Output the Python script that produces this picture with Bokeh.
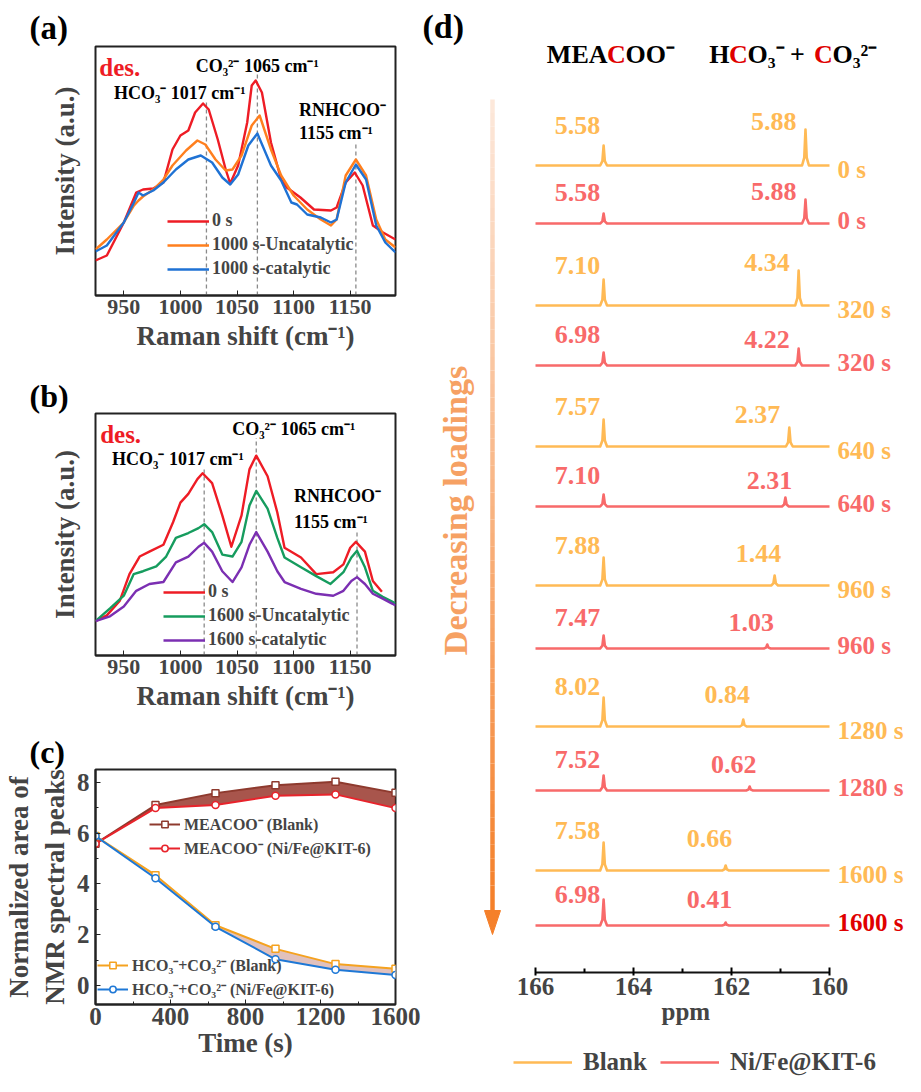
import numpy as np
from bokeh.plotting import figure
from bokeh.models import Range1d, FixedTicker, SingleIntervalTicker, Legend, LegendItem, Title
from bokeh.layouts import row, column
from bokeh.embed import file_html
from bokeh.resources import INLINE
from bokeh.core.properties import value

SERIF = "Liberation Serif"

# ---------------- panel (a): Raman spectra, 1000 s ----------------
a_red_x = [925, 935, 950, 961, 967, 976, 985, 993, 1000, 1007, 1013, 1020, 1025, 1033, 1040, 1044, 1051, 1059, 1063, 1066.5,
           1072, 1080, 1089, 1094, 1106, 1118, 1133, 1138, 1146, 1154, 1161, 1170, 1179, 1190]
a_red_y = [35, 40, 73, 103, 106, 107, 113, 146, 160, 165, 183, 192, 186, 156, 126, 112, 130, 173, 210, 215,
           203, 153, 116, 108, 98, 86, 85, 88, 113, 123, 110, 70, 63, 56]
a_orange_x = [925, 935, 950, 959, 963, 967, 976, 985, 993, 1005, 1015, 1022, 1031, 1040, 1046, 1054, 1063, 1070, 1080, 1089,
              1100, 1112, 1124, 1133, 1138, 1146, 1155, 1164, 1173, 1181, 1190]
a_orange_y = [46, 56, 73, 90, 95, 99, 106, 116, 130, 145, 155, 151, 136, 125, 126, 140, 170, 180, 146, 120,
              100, 86, 76, 70, 76, 120, 136, 120, 76, 56, 48]
a_blue_x = [925, 935, 950, 959, 963, 967, 976, 985, 996, 1007, 1018, 1028, 1037, 1044, 1051, 1060, 1068, 1080, 1089, 1098,
            1103, 1112, 1124, 1133, 1138, 1146, 1155, 1164, 1173, 1181, 1190]
a_blue_y = [44, 50, 73, 93, 103, 100, 105, 113, 126, 136, 140, 133, 118, 111, 121, 150, 162, 130, 115, 93,
            91, 81, 78, 73, 76, 113, 131, 116, 70, 53, 43]
a_labels = ["0 s", "1000 s-Uncatalytic", "1000 s-catalytic"]
a_peaks = [1023, 1068, 1155]

# ---------------- panel (b): Raman spectra, 1600 s ----------------
b_red_x = [925, 935, 946.5, 955, 964, 972.6, 985, 993.5, 1000, 1007, 1015, 1019.6, 1028, 1037, 1045, 1054, 1061, 1067, 1077, 1085.6,
           1092, 1106.5, 1120, 1135, 1144, 1150, 1155, 1163, 1170, 1178]
b_red_y = [35, 41, 56, 83, 101, 106, 113, 136, 156, 165, 180, 186, 176, 143, 111, 143, 190, 204, 183, 146,
           110, 100, 83, 85, 93, 110, 116, 106, 76, 65]
b_green_x = [925, 937.8, 950, 958.7, 967, 978.7, 987.4, 996, 1007, 1016, 1021, 1028, 1037, 1046, 1054, 1061, 1067, 1077, 1085.6, 1092,
             1106.5, 1120, 1132.6, 1144, 1151, 1156, 1163, 1170, 1178.7, 1187, 1190]
b_green_y = [35, 48, 61, 83, 86, 91, 101, 120, 125, 130, 134, 126, 103, 101, 116, 153, 168, 150, 120, 100,
             90, 81, 73, 85, 100, 107, 90, 66, 60, 55, 53]
b_purple_x = [925, 937.8, 950, 961, 972.6, 985, 996, 1007, 1016, 1021, 1028, 1037, 1046, 1054, 1061, 1067, 1077, 1085.6, 1092, 1106.5,
              1120, 1135, 1144, 1151, 1156, 1163, 1170, 1178.7, 1187, 1190]
b_purple_y = [35, 40, 50, 66, 73, 75, 95, 101, 111, 115, 106, 86, 75, 90, 113, 126, 106, 86, 75, 68,
              63, 61, 66, 76, 80, 73, 63, 58, 53, 51]
b_labels = ["0 s", "1600 s-Uncatalytic", "1600 s-catalytic"]
b_peaks = [1021, 1067, 1156]

# ---------------- panel (c) / (d): NMR peak areas ----------------
times = [0, 320, 640, 960, 1280, 1600]
time_labels = ["0 s", "320 s", "640 s", "960 s", "1280 s", "1600 s"]
mea_blank = [5.58, 7.10, 7.57, 7.88, 8.02, 7.58]
mea_ni = [5.58, 6.98, 7.10, 7.47, 7.52, 6.98]
hco_blank = [5.88, 4.34, 2.37, 1.44, 0.84, 0.66]
hco_ni = [5.88, 4.22, 2.31, 1.03, 0.62, 0.41]

# (d) spectra: peak positions (ppm), peak heights and stacking offsets (intensity units)
mea_ppm = 164.61
hco_ppm_blank = [160.49, 160.63, 160.82, 161.12, 161.76, 162.12]
hco_ppm_ni = [160.49, 160.63, 160.90, 161.27, 161.63, 162.12]
mea_h_blank = [20, 26, 27, 28, 29, 28]
hco_h_blank = [36, 35, 19, 10, 7, 5]
mea_h_ni = [10, 13, 12, 13, 15, 26]
hco_h_ni = [24, 17, 9, 4, 4, 3]
offset_blank = [807, 667, 526, 387, 246, 102]
offset_ni = [749, 607, 466, 324, 182, 47]

# ---------------- colours ----------------
C_RED = "#EE1C25"
C_ORANGE = "#FF7F1E"
C_BLUE = "#1F72D4"
C_GREEN = "#169C5E"
C_PURPLE = "#7B2FB2"
C_D_BLANK = "#FFBA55"
C_D_NI = "#F86A6A"


def bold_text(p, x, y, text, size, color="black", align="left", angle=0.0):
    p.text(x=x, y=y, text=text, text_font=value(SERIF), text_font_size=size,
           text_font_style="bold", text_color=color, text_align=align,
           text_baseline="middle", angle=angle)


def panel_title(p, text, size, standoff):
    p.add_layout(Title(text=text, align="left", offset=-66, text_font=SERIF, text_font_size=size,
                       text_font_style="bold", text_color="black", standoff=standoff), "above")


def base_axes(p):
    p.grid.visible = False
    p.outline_line_color = "#222222"
    p.outline_line_width = 2
    for ax in p.axis:
        ax.axis_line_color = "#222222"
        ax.axis_line_width = 2
        ax.major_label_text_font = SERIF
        ax.major_label_text_font_style = "bold"
        ax.axis_label_text_font = SERIF
        ax.axis_label_text_font_style = "bold"
        ax.axis_label_text_font_size = "27px"
        ax.major_tick_in = 5
        ax.major_tick_out = 0
        ax.minor_tick_in = 3
        ax.minor_tick_out = 0
        ax.major_tick_line_color = "#222222"
        ax.minor_tick_line_color = "#222222"


def raman_panel(height, top, bottom, ymax, curves, labels, peaks, notes, legend_loc):
    p = figure(width=422, height=height, x_range=Range1d(925, 1190), y_range=Range1d(0, ymax),
               output_backend="svg", toolbar_location=None,
               min_border_left=90, min_border_right=27, min_border_top=top, min_border_bottom=bottom)
    base_axes(p)
    p.xaxis.ticker = FixedTicker(ticks=[950, 1000, 1050, 1100, 1150])
    p.xaxis.major_label_text_font_size = "22px"
    p.xaxis.major_label_standoff = 4
    p.xaxis.axis_label = "Raman shift (cm\u207b\u00b9)"
    p.xaxis.axis_label_standoff = 4
    p.yaxis.ticker = FixedTicker(ticks=[])
    p.yaxis.axis_line_color = None
    p.yaxis.axis_label = "Intensity (a.u.)"
    p.yaxis.axis_label_standoff = 16
    for pk, top_val in zip(peaks, notes["dash_tops"]):
        p.segment(x0=[pk], y0=[0], x1=[pk], y1=[top_val], line_color="#8a8a8a",
                  line_width=1.3, line_dash="4 3")
    rends = []
    for (xs, ys, col) in curves:
        rends.append(p.line(xs, ys, line_color=col, line_width=2.4, line_join="round"))
    legend = Legend(items=[LegendItem(label=l, renderers=[r]) for l, r in zip(labels, rends)],
                    location=legend_loc, glyph_width=42, glyph_height=18, label_standoff=3,
                    spacing=3, padding=0, margin=0, label_height=20,
                    label_text_font=SERIF, label_text_font_size="18px", label_text_font_style="bold",
                    background_fill_alpha=0, border_line_alpha=0)
    p.add_layout(legend, "center")
    for (x, y, t, size, col) in notes["texts"]:
        bold_text(p, [x], [y], [t], size, col)
    return p


notes_a = {
    "dash_tops": [193, 222, 152],
    "texts": [(928.3, 228, "des.", "25px", C_RED),
              (1013.5, 230, "CO\u2083\u00b2\u207b 1065 cm\u207b\u00b9", "18px", "black"),
              (941.3, 203, "HCO\u2083\u207b  1017 cm\u207b\u00b9", "18px", "black"),
              (1104.8, 186, "RNHCOO\u207b", "18px", "black"),
              (1104.8, 163, "1155 cm\u207b\u00b9", "18px", "black")],
}
notes_b = {
    "dash_tops": [192, 222, 126],
    "texts": [(929.1, 226, "des.", "25px", C_RED),
              (1045.7, 231, "CO\u2083\u00b2\u207b 1065 cm\u207b\u00b9", "18px", "black"),
              (939.6, 201, "HCO\u2083\u207b  1017 cm\u207b\u00b9", "18px", "black"),
              (1100.4, 163, "RNHCOO\u207b", "18px", "black"),
              (1100.4, 136, "1155 cm\u207b\u00b9", "18px", "black")],
}

fa = raman_panel(371, 46, 76, 249,
                 [(a_red_x, a_red_y, C_RED), (a_orange_x, a_orange_y, C_ORANGE), (a_blue_x, a_blue_y, C_BLUE)],
                 a_labels, a_peaks, notes_a, (72, 16))
panel_title(fa, "(a)", "33px", 2)

fb = raman_panel(360, 42, 76, 247,
                 [(b_red_x, b_red_y, C_RED), (b_green_x, b_green_y, C_GREEN), (b_purple_x, b_purple_y, C_PURPLE)],
                 b_labels, b_peaks, notes_b, (68, 5))
panel_title(fb, "(b)", "32px", 0)

# ---------------- panel (c) ----------------
fc = figure(width=422, height=345, x_range=Range1d(0, 1600), y_range=Range1d(-0.75, 8.5),
            output_backend="svg", toolbar_location=None,
            min_border_left=90, min_border_right=27, min_border_top=36, min_border_bottom=72)
base_axes(fc)
panel_title(fc, "(c)", "32px", 0)
fc.xaxis.ticker = SingleIntervalTicker(interval=400, num_minor_ticks=2)
fc.yaxis.ticker = SingleIntervalTicker(interval=2, num_minor_ticks=2)
fc.xaxis.major_label_text_font_size = "25px"
fc.yaxis.major_label_text_font_size = "25px"
fc.xaxis.major_label_standoff = 3
fc.yaxis.major_label_standoff = 6
fc.xaxis.axis_label = "Time (s)"
fc.xaxis.axis_label_standoff = 0
fc.yaxis.axis_label = "Normalized area of\nNMR spectral peaks"
fc.yaxis.axis_label_standoff = 4

fc.varea(x=times, y1=mea_ni, y2=mea_blank, fill_color="#9C3D33", fill_alpha=0.88)
fc.varea(x=times, y1=hco_ni, y2=hco_blank, fill_color="#C98E86", fill_alpha=0.55)

series_c = [(mea_blank, "#8E3A2E", "square", "MEACOO\u207b (Blank)"),
            (mea_ni, "#E8232B", "circle", "MEACOO\u207b (Ni/Fe@KIT-6)"),
            (hco_blank, "#F5A21F", "square", "HCO\u2083\u207b+CO\u2083\u00b2\u207b (Blank)"),
            (hco_ni, "#1E78D6", "circle", "HCO\u2083\u207b+CO\u2083\u00b2\u207b (Ni/Fe@KIT-6)")]
items_c = []
for vals, col, mk, lab in series_c:
    lr = fc.line(times, vals, line_color=col, line_width=2)
    sr = fc.scatter(times, vals, marker=mk, size=7, line_color=col, fill_color="white", line_width=1.5)
    items_c.append(LegendItem(label=lab, renderers=[lr, sr]))

for its, loc, lh in [(items_c[:2], (54, 145), 19), (items_c[2:], (2, 4), 21)]:
    lg = Legend(items=its, location=loc, glyph_width=31, glyph_height=16, label_standoff=4,
                spacing=2, padding=0, margin=0, label_height=lh,
                label_text_font=SERIF, label_text_font_size="16px", label_text_font_style="bold",
                background_fill_alpha=0, border_line_alpha=0)
    fc.add_layout(lg, "center")

# ---------------- panel (d) ----------------
def ppm_px(px):
    return 166 - (px - 543) / 49.0


def yd(py):
    return 980 - py


D_XR = (ppm_px(430), ppm_px(913))
fd = figure(width=483, height=1048, x_range=Range1d(*D_XR), y_range=Range1d(0, 972),
            output_backend="svg", toolbar_location=None, y_axis_location=None,
            min_border_left=0, min_border_right=0, min_border_top=0, min_border_bottom=76)
fd.grid.visible = False
fd.outline_line_color = None
ax = fd.xaxis[0]
ax.bounds = (160, 166)
ax.ticker = FixedTicker(ticks=[160, 162, 164, 166], minor_ticks=[161, 163, 165])
ax.axis_line_width = 2
ax.axis_line_color = "#111111"
ax.major_tick_in = 5
ax.major_tick_out = 3
ax.minor_tick_in = 4
ax.minor_tick_out = 0
ax.major_tick_line_width = 2
ax.minor_tick_line_width = 2
ax.major_label_text_font = SERIF
ax.major_label_text_font_style = "bold"
ax.major_label_text_font_size = "25px"
ax.major_label_standoff = 2
ax.axis_label = "\u00a0\u00a0\u00a0\u00a0\u00a0\u00a0\u00a0ppm"
ax.axis_label_text_font = SERIF
ax.axis_label_text_font_style = "bold"
ax.axis_label_text_font_size = "25px"
ax.axis_label_standoff = 0


def spectrum(offset, mea_h, hco_pos, hco_h):
    xs, ys = [166.0], [offset]
    for pos, h in sorted([(mea_ppm, mea_h), (hco_pos, hco_h)], reverse=True):
        xs += [pos + 0.07, pos + 0.025, pos, pos - 0.025, pos - 0.07]
        ys += [offset, offset + 0.22 * h, offset + h, offset + 0.22 * h, offset]
    xs.append(160.0)
    ys.append(offset)
    return xs, ys


blank_specs = [spectrum(o, mh, hp, hh) for o, mh, hp, hh in zip(offset_blank, mea_h_blank, hco_ppm_blank, hco_h_blank)]
ni_specs = [spectrum(o, mh, hp, hh) for o, mh, hp, hh in zip(offset_ni, mea_h_ni, hco_ppm_ni, hco_h_ni)]
blank_xs, blank_ys = [s[0] for s in blank_specs], [s[1] for s in blank_specs]
ni_xs, ni_ys = [s[0] for s in ni_specs], [s[1] for s in ni_specs]
fd.multi_line(blank_xs, blank_ys, line_color=C_D_BLANK, line_width=2.6, line_join="round")
fd.multi_line(ni_xs, ni_ys, line_color=C_D_NI, line_width=2.6, line_join="round")

for offs, mvals, hvals, hpos, hh, col, mea_up, hco_min, dy in [
        (offset_blank, mea_blank, hco_blank, hco_ppm_blank, hco_h_blank, C_D_BLANK, 40, 32, -4),
        (offset_ni, mea_ni, hco_ni, hco_ppm_ni, hco_h_ni, C_D_NI, 31, 26, 3)]:
    bold_text(fd, [mea_ppm + 26 / 49.0] * 6, [o + mea_up for o in offs], ["%.2f" % v for v in mvals], "26px", col, "center")
    for o, v, pos, h in zip(offs, hvals, hpos, hh):
        if h >= 15:
            bold_text(fd, [pos + 9 / 49.0], [o + max(h + 8, hco_min)], ["%.2f" % v], "26px", col, "right")
        else:
            bold_text(fd, [pos + 16 / 49.0], [o + hco_min], ["%.2f" % v], "26px", col, "center")
    tcols = [col] * 6
    if col == C_D_NI:
        tcols[-1] = "#E00000"
    for o, t, tc in zip(offs, time_labels, tcols):
        bold_text(fd, [ppm_px(845)], [o + dy], [t], "25px", tc, "left")

# column headers
hy = yd(62)
bold_text(fd, [ppm_px(615)], [hy], ["MEA"], "26px", "black", "right")
bold_text(fd, [ppm_px(624)], [hy], ["C"], "26px", "#E00000", "center")
bold_text(fd, [ppm_px(633)], [hy], ["OO\u207b"], "26px", "black", "left")
bold_text(fd, [ppm_px(737)], [hy], ["H"], "26px", "black", "right")
bold_text(fd, [ppm_px(746)], [hy], ["C"], "26px", "#E00000", "center")
bold_text(fd, [ppm_px(755)], [hy], ["O\u2083\u207b"], "26px", "black", "left")
bold_text(fd, [ppm_px(805)], [hy], ["+"], "26px", "black", "center")
bold_text(fd, [ppm_px(831)], [hy], ["C"], "26px", "#E00000", "center")
bold_text(fd, [ppm_px(840)], [hy], ["O\u2083\u00b2\u207b"], "26px", "black", "left")
bold_text(fd, [ppm_px(430)], [yd(34)], ["(d)"], "34px", "black", "left")

# decreasing-loadings arrow with colour gradient
arrow_x = ppm_px(500)
n_seg = 60
ys_arrow = np.linspace(yd(107), yd(920), n_seg + 1)
c0 = np.array([253, 232, 218])
c1 = np.array([245, 128, 42])
grad = ["#%02x%02x%02x" % tuple((c0 + (c1 - c0) * t).astype(int)) for t in np.linspace(0, 1, n_seg)]
fd.segment(x0=[arrow_x] * n_seg, y0=ys_arrow[:-1], x1=[arrow_x] * n_seg, y1=ys_arrow[1:],
           line_color=grad, line_width=4.5)
hw = 8 / 49.0
fd.patch(x=[arrow_x - hw, arrow_x + hw, arrow_x], y=[yd(918), yd(918), yd(942)], fill_color="#F5802A",
         line_color="#F5802A")
bold_text(fd, [ppm_px(463)], [yd(518)], ["Decreasing loadings"], "34px", "#F6A163", "center", np.pi / 2)

# legend strip for (d): the same spectra, drawn in a strip whose ranges keep them out of view
fl = figure(width=483, height=28, x_range=Range1d(*D_XR), y_range=Range1d(-2000, -1900),
            output_backend="svg", toolbar_location=None, x_axis_location=None, y_axis_location=None,
            min_border_left=0, min_border_right=0, min_border_top=0, min_border_bottom=0)
fl.grid.visible = False
fl.outline_line_color = None
lb = fl.multi_line(blank_xs, blank_ys, line_color=C_D_BLANK, line_width=2.6)
ln = fl.multi_line(ni_xs, ni_ys, line_color=C_D_NI, line_width=2.6)
leg_d = Legend(items=[LegendItem(label="Blank", renderers=[lb]),
                      LegendItem(label="Ni/Fe@KIT-6", renderers=[ln])],
               orientation="horizontal", location=(91, 0), glyph_width=59, glyph_height=20,
               label_standoff=11, spacing=13, padding=0, margin=0, label_height=24,
               label_text_font=SERIF, label_text_font_size="25px", label_text_font_style="bold",
               background_fill_alpha=0, border_line_alpha=0)
fl.add_layout(leg_d, "center")

layout = row(column(fa, fb, fc), column(fd, fl))
open("out.html", "w").write(file_html(layout, INLINE))
